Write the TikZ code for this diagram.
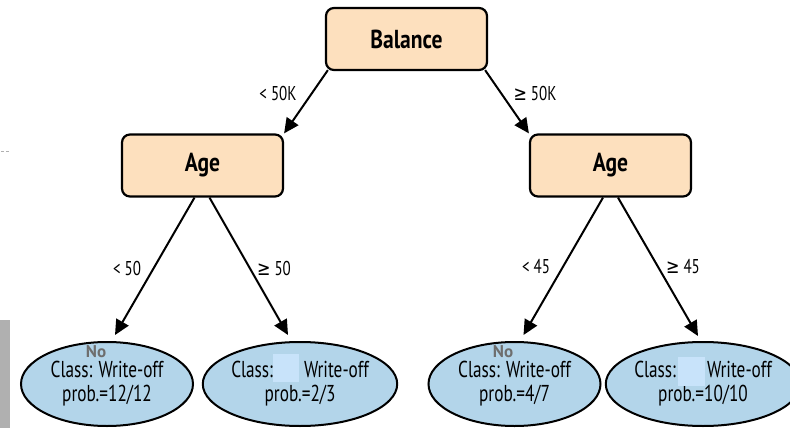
\documentclass[tikz,border=0pt]{standalone}
\usepackage{fontspec}
\setmainfont{PT Sans}[FakeStretch=0.75]
\newfontfamily\boldf{PT Sans}[FakeStretch=0.83]
\newfontfamily\nofont{PT Sans}
\newfontfamily\symf{DejaVu Sans}[FakeStretch=0.8]
\usetikzlibrary{arrows.meta,shapes.geometric}
\definecolor{boxfill}{RGB}{253,224,190}
\definecolor{leaffill}{RGB}{179,213,234}
\definecolor{patch}{RGB}{200,227,250}
\definecolor{nogray}{RGB}{110,110,110}
\definecolor{bargray}{RGB}{176,176,176}
\tikzset{
  box/.style={draw=black, line width=2.2pt, rounded corners=8pt, fill=boxfill,
    minimum width=161pt, minimum height=62pt, inner sep=0pt,
    font=\boldf\fontsize{26}{28}\selectfont\bfseries},
  leaf/.style={ellipse, draw=black, line width=2pt, fill=leaffill,
    minimum width=172pt, minimum height=84pt, inner sep=0pt, align=center,
    font=\fontsize{23}{24}\selectfont},
  lbl/.style={inner sep=0pt, font=\fontsize{20}{22}\selectfont},
  nolbl/.style={inner sep=0pt, text=nogray, font=\nofont\fontsize{17}{18}\selectfont\bfseries},
  arr/.style={-{Triangle[length=15pt,width=14pt]}, line width=2pt},
}
\begin{document}
\begin{tikzpicture}[x=1pt,y=-1pt]
\useasboundingbox (0,0) rectangle (790,428);
\fill[bargray] (0,320) rectangle (10,428);
\draw[bargray, line width=0.8pt, dash pattern=on 3pt off 2pt] (1,151) -- (10,151);

\node[box] (bal) at (406.5,39) {Balance};
\node[box] (ageL) at (202.5,165.5) {Age};
\node[box] (ageR) at (610.5,165.5) {Age};

\node[leaf] (l1) at (107,384) {Class: Write-off\\prob.=12/12};
\node[leaf] (l2) at (300,384) {Class:\hspace{31pt}Write-off\\prob.=2/3};
\node[leaf] (l3) at (514.5,384) {Class: Write-off\\prob.=4/7};
\node[leaf] (l4) at (703,384) {Class:\hspace{31pt}Write-off\\prob.=10/10};

\fill[patch] (273,354) rectangle (299,382);
\fill[patch] (678,357) rectangle (705,386);

\node[nolbl] (no1) at (96,352) {No};
\node[nolbl] (no3) at (503,352) {No};

\draw[arr] ([xshift=3pt,yshift=1pt]bal.south west) -- (ageL.north east);
\draw[arr] ([xshift=-3pt,yshift=1pt]bal.south east) -- (ageR.north west);
\draw[arr] ([xshift=-8pt]ageL.south) -- ([xshift=8pt,yshift=6pt]l1.north);
\draw[arr] ([xshift=7pt]ageL.south) -- ([xshift=-12pt,yshift=6pt]l2.north);
\draw[arr] ([xshift=-7.5pt]ageR.south) -- ([xshift=9pt,yshift=6pt]l3.north);
\draw[arr] ([xshift=7.5pt]ageR.south) -- ([xshift=-5pt,yshift=5pt]l4.north);

\node[lbl] (e1) at (278,93) {< 50K};
\node[lbl] (e2) at (535,93) {{\symf ≥} 50K};
\node[lbl] (e3) at (127,268) {< 50};
\node[lbl] (e4) at (274,268) {{\symf ≥} 50};
\node[lbl] (e5) at (536,267) {< 45};
\node[lbl] (e6) at (683,267) {{\symf ≥} 45};
\end{tikzpicture}
\end{document}
